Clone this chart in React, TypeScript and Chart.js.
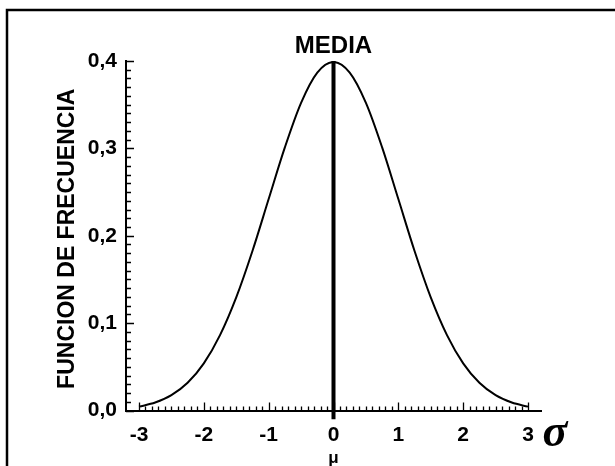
import React, { useEffect, useRef } from "react";
import { Chart, registerables } from "chart.js";

Chart.register(...registerables);

// Curve (x in sigma units, y = frequency)
const curveX = [-3, -2.75, -2.5, -2.25, -2, -1.75, -1.5, -1.25, -1, -0.75, -0.5, -0.25, 0, 0.25, 0.5, 0.75, 1, 1.25, 1.5, 1.75, 2, 2.25, 2.5, 2.75, 3];
const curveY = [0.0044, 0.0091, 0.0175, 0.0317, 0.054, 0.0863, 0.1295, 0.1826, 0.242, 0.3011, 0.3521, 0.3867, 0.3989, 0.3867, 0.3521, 0.3011, 0.242, 0.1826, 0.1295, 0.0863, 0.054, 0.0317, 0.0175, 0.0091, 0.0044];

// Mean line
const meanX = [0, 0];
const meanY = [0.4, -0.01];

const xTicks = [-3, -2, -1, 0, 1, 2, 3];
const xTickLabels = ["-3", "-2", "-1", "0", "1", "2", "3"];
const yTicks = [0, 0.1, 0.2, 0.3, 0.4];
const yTickLabels = ["0,0", "0,1", "0,2", "0,3", "0,4"];

const FONT = "'Liberation Sans', Arial, sans-serif";

export default function App() {
  const ref = useRef<HTMLCanvasElement | null>(null);

  useEffect(() => {
    const canvas = ref.current!;
    const decor = {
      id: "decor",
      afterDraw(chart: any) {
        const ctx = chart.ctx as CanvasRenderingContext2D;
        const xs = chart.scales.x;
        const ys = chart.scales.y;
        const area = chart.chartArea;
        ctx.save();
        ctx.strokeStyle = "#000";
        // frame
        ctx.lineWidth = 2.5;
        ctx.beginPath();
        ctx.moveTo(7, 470);
        ctx.lineTo(7, 10);
        ctx.lineTo(620, 10);
        ctx.stroke();
        // inward ticks
        ctx.lineWidth = 1.3;
        ctx.beginPath();
        for (let i = 0; i <= 60; i++) {
          const v = -3 + i * 0.1;
          const px = Math.round(xs.getPixelForValue(v)) + 0.5;
          const len = i % 10 === 0 ? 8 : 4;
          ctx.moveTo(px, area.bottom);
          ctx.lineTo(px, area.bottom - len);
        }
        for (let i = 0; i <= 40; i++) {
          const v = i * 0.01;
          const py = Math.round(ys.getPixelForValue(v)) + 0.5;
          const len = i % 10 === 0 ? 8 : 5;
          ctx.moveTo(area.left, py);
          ctx.lineTo(area.left + len, py);
        }
        ctx.stroke();
        // texts
        ctx.fillStyle = "#000";
        ctx.textAlign = "center";
        ctx.textBaseline = "middle";
        ctx.font = `bold 24px ${FONT}`;
        ctx.fillText("MEDIA", xs.getPixelForValue(0), 46);
        ctx.font = `bold 17px ${FONT}`;
        ctx.fillText("μ", xs.getPixelForValue(0), 458);
        ctx.font = `bold italic 46px 'Liberation Serif', 'Times New Roman', serif`;
        ctx.fillText("σ", 555, 434);
        ctx.save();
        ctx.translate(68, (ys.getPixelForValue(0) + ys.getPixelForValue(0.4)) / 2 + 3);
        ctx.rotate(-Math.PI / 2);
        ctx.font = `bold 23px ${FONT}`;
        ctx.fillText("FUNCION DE FRECUENCIA", 0, 0);
        ctx.restore();
        ctx.restore();
      },
    };

    const chart = new Chart(canvas, {
      type: "line",
      data: {
        datasets: [
          {
            data: curveX.map((x, i) => ({ x, y: curveY[i] })),
            borderColor: "#000",
            borderWidth: 2,
            pointRadius: 0,
            cubicInterpolationMode: "monotone",
            fill: false,
          },
          {
            data: meanX.map((x, i) => ({ x, y: meanY[i] })),
            borderColor: "#000",
            borderWidth: 4,
            pointRadius: 0,
            clip: false as any,
            fill: false,
          },
        ],
      },
      options: {
        animation: false,
        responsive: false,
        devicePixelRatio: 1,
        layout: { padding: { top: 61, right: 74, left: 0, bottom: 0 } },
        plugins: { legend: { display: false }, tooltip: { enabled: false }, title: { display: false } },
        scales: {
          x: {
            type: "linear",
            min: -3.2,
            max: 3.2,
            afterFit: (s: any) => {
              s.height = 55.5;
            },
            afterBuildTicks: (s: any) => {
              s.ticks = xTicks.map((v) => ({ value: v }));
            },
            grid: { drawOnChartArea: false, drawTicks: false, color: "transparent" },
            border: { display: true, color: "#000", width: 2 },
            ticks: {
              padding: 12,
              color: "#000",
              font: { family: FONT, size: 21, weight: "bold" },
              maxRotation: 0,
              autoSkip: false,
              callback: (v: any) => {
                const i = xTicks.findIndex((t) => Math.abs(t - Number(v)) < 1e-9);
                return i >= 0 ? xTickLabels[i] : "";
              },
            },
          },
          y: {
            type: "linear",
            min: 0,
            max: 0.4,
            afterFit: (s: any) => {
              s.width = 126;
            },
            afterBuildTicks: (s: any) => {
              s.ticks = yTicks.map((v) => ({ value: v }));
            },
            grid: { drawOnChartArea: false, drawTicks: false, color: "transparent" },
            border: { display: true, color: "#000", width: 2 },
            ticks: {
              padding: 9,
              color: "#000",
              font: { family: FONT, size: 21, weight: "bold" },
              autoSkip: false,
              callback: (v: any) => {
                const i = yTicks.findIndex((t) => Math.abs(t - Number(v)) < 1e-9);
                return i >= 0 ? yTickLabels[i] : "";
              },
            },
          },
        },
      },
      plugins: [decor],
    } as any);
    return () => chart.destroy();
  }, []);

  return (
    <div style={{ position: "fixed", left: 0, top: 0, width: 615, height: 466, background: "#fff" }}>
      <canvas ref={ref} width={615} height={466} style={{ width: 615, height: 466, display: "block" }} />
    </div>
  );
}
